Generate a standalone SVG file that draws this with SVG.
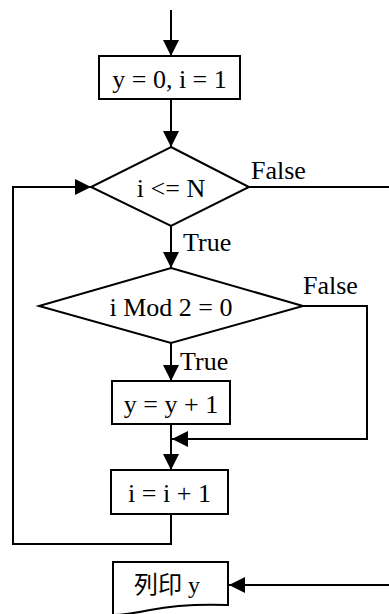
<svg xmlns="http://www.w3.org/2000/svg" width="389" height="614" viewBox="0 0 389 614">
<defs>
<marker id="ah" viewBox="0 0 16 16" refX="16" refY="8" markerWidth="16" markerHeight="16" markerUnits="userSpaceOnUse" orient="auto">
<path d="M0,0 L16,8 L0,16 z" fill="#000"/>
</marker>
<style>
.s{fill:#fff;stroke:#000;stroke-width:2}
.c{fill:none;stroke:#000;stroke-width:2}
.t{font-family:"Liberation Serif","Noto Sans CJK TC",serif;font-size:26px;fill:#000;text-anchor:middle;dominant-baseline:central}
.l{font-family:"Liberation Serif",serif;font-size:26px;fill:#000}
</style>
</defs>
<rect width="389" height="614" fill="#fff"/>
<g id="connectors">
<path class="c" d="M171,10 V56" marker-end="url(#ah)"/>
<path class="c" d="M171,99 V147" marker-end="url(#ah)"/>
<path class="c" d="M249,187 H389"/>
<path class="c" d="M171,226 V268" marker-end="url(#ah)"/>
<path class="c" d="M303,306 H367 V439 H172" marker-end="url(#ah)"/>
<path class="c" d="M171,343 V381" marker-end="url(#ah)"/>
<path class="c" d="M171,424 V470" marker-end="url(#ah)"/>
<path class="c" d="M171,514 V544 H13 V187 H91" marker-end="url(#ah)"/>
<path class="c" d="M389,585 H229" marker-end="url(#ah)"/>
<text class="l" x="251" y="179">False</text>
<text class="l" x="183" y="251">True</text>
<text class="l" x="303" y="294">False</text>
<text class="l" x="180" y="370">True</text>
</g>
<g id="init">
<rect class="s" x="99" y="56" width="141" height="43"/>
<text class="t" x="169.5" y="79">y = 0, i = 1</text>
</g>
<g id="cond1">
<path class="s" d="M171,147 L249,187 L171,226 L91,187 Z"/>
<text class="t" x="171" y="188">i &lt;= N</text>
</g>
<g id="cond2">
<path class="s" d="M171,268 L303,306 L171,343 L39,306 Z"/>
<text class="t" x="171" y="307">i Mod 2 = 0</text>
</g>
<g id="inc_y">
<rect class="s" x="112" y="381" width="118" height="43"/>
<text class="t" x="171" y="404">y = y + 1</text>
</g>
<g id="inc_i">
<rect class="s" x="111" y="470" width="117" height="44"/>
<text class="t" x="169.5" y="493">i = i + 1</text>
</g>
<g id="print">
<path class="s" d="M113,562 H228 V605 C200,604 170,606 150,610 C135,613 122,615 113,615 Z"/>
<text class="t" x="167" y="585" style="font-size:24px">列印 y</text>
</g>
</svg>
